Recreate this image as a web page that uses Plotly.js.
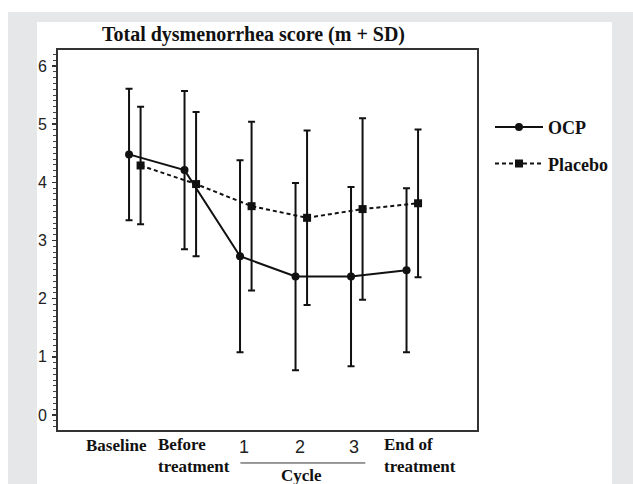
<!DOCTYPE html>
<html>
<head>
<meta charset="utf-8">
<script src="https://cdn.plot.ly/plotly-3.0.1.min.js"></script>
<style>
  html, body { margin: 0; padding: 0; background: #ffffff; }
  #bg { position: absolute; left: 8px; top: 12px; width: 625px; height: 472px; background: #e6e7e8; }
  #panel { position: absolute; left: 37px; top: 22px; width: 575px; height: 462px; background: #ffffff; }
  #chart { position: absolute; left: 0; top: 0; width: 633px; height: 484px; }
</style>
</head>
<body>
<div id="bg"></div>
<div id="panel"></div>
<div id="chart"></div>
<script>
// ---- data ----
const categories = ['Baseline', 'Before treatment', 'Cycle 1', 'Cycle 2', 'Cycle 3', 'End of treatment'];
const xLabels = ['Baseline', 'Before<br>treatment', '1', '2', '3', 'End of<br>treatment'];
const groupLabel = 'Cycle';
const ocpMean = [4.48, 4.21, 2.73, 2.38, 2.38, 2.49];
const ocpSD = [1.13, 1.36, 1.65, 1.61, 1.54, 1.41];
const placeboMean = [4.29, 3.97, 3.59, 3.39, 3.54, 3.64];
const placeboSD = [1.01, 1.24, 1.45, 1.50, 1.56, 1.27];
const seriesNames = ['OCP', 'Placebo'];
const titleText = 'Total dysmenorrhea score (m + SD)';

// ---- layout / style ----
const idx = categories.map((_, i) => i);
const offset = 0.104;
const ink = '#111111';
const serifBold = 'Liberation Serif, Times New Roman, serif';

const traces = [
  {
    x: idx.map(i => i - offset), y: ocpMean, name: seriesNames[0],
    type: 'scatter', mode: 'lines+markers', legendgroup: 'a',
    line: {color: ink, width: 2}, marker: {symbol: 'circle', size: 8, color: ink},
    error_y: {type: 'data', array: ocpSD, visible: true, color: ink, thickness: 2, width: 3.5},
    cliponaxis: false
  },
  {
    x: idx.map(i => i + offset), y: placeboMean, name: seriesNames[1],
    type: 'scatter', mode: 'lines+markers', legendgroup: 'b',
    line: {color: ink, width: 2, dash: '4px,3px'}, marker: {symbol: 'square', size: 8, color: ink},
    error_y: {type: 'data', array: placeboSD, visible: true, color: ink, thickness: 2, width: 3.5},
    cliponaxis: false
  }
];

// label placement (style): anchor and shift from category index
const labelStyle = [
  {dx: 0.256, anchor: 'right', y: -0.0395, font: 'serif'},
  {dx: -0.613, anchor: 'left', y: -0.0684, font: 'serif'},
  {dx: -0.036, anchor: 'center', y: -0.045, font: 'sans'},
  {dx: -0.030, anchor: 'center', y: -0.045, font: 'sans'},
  {dx: -0.047, anchor: 'center', y: -0.045, font: 'sans'},
  {dx: -0.537, anchor: 'left', y: -0.0684, font: 'serif'}
];

const annotations = xLabels.map((t, i) => {
  const s = labelStyle[i];
  return {
    text: s.font === 'serif' ? '<b>' + t + '</b>' : t,
    x: i + s.dx, xref: 'x', xanchor: s.anchor,
    y: s.y, yref: 'paper', yanchor: 'middle',
    showarrow: false, align: 'left',
    font: s.font === 'serif'
      ? {family: serifBold, size: 17, color: ink}
      : {family: 'Liberation Sans, Arial, sans-serif', size: 18, color: '#222'}
  };
});
annotations.push({
  text: '<b>' + groupLabel + '</b>', x: 2.995, xref: 'x', xanchor: 'center',
  y: -0.121, yref: 'paper', yanchor: 'middle', showarrow: false,
  font: {family: serifBold, size: 17, color: ink}
});

const layout = {
  width: 633, height: 484,
  paper_bgcolor: 'rgba(0,0,0,0)', plot_bgcolor: '#ffffff',
  margin: {l: 58, r: 156, t: 50, b: 54, pad: 0},
  title: {
    text: '<b>' + titleText + '</b>',
    x: 0.4666, xref: 'paper', xanchor: 'center',
    y: 0.93, yref: 'container', yanchor: 'middle',
    font: {family: serifBold, size: 20, color: ink}
  },
  xaxis: {
    range: [-1.384, 6.166], showticklabels: false, ticks: '', showgrid: false, zeroline: false,
    showline: true, mirror: true, linecolor: '#333', linewidth: 2
  },
  yaxis: {
    range: [-0.258, 6.275], dtick: 1, tick0: 0, ticks: 'outside', ticklen: 4, tickwidth: 1.5, tickcolor: '#333',
    minor: {dtick: 0.1, ticks: 'outside', ticklen: 3, tickwidth: 1, tickcolor: '#444', showgrid: false},
    showgrid: false, zeroline: false, showline: true, mirror: true, linecolor: '#333', linewidth: 2,
    tickfont: {family: 'Liberation Sans, Arial, sans-serif', size: 16, color: '#222'},
    ticklabelstandoff: 2
  },
  shapes: [{
    type: 'line', xref: 'x', yref: 'paper', x0: 1.903, x1: 4.153, y0: -0.0868, y1: -0.0868,
    line: {color: '#333', width: 1}
  }],
  annotations: annotations,
  showlegend: true,
  legend: {
    x: 1.031, xanchor: 'left', y: 0.845, yanchor: 'top',
    bgcolor: 'rgba(0,0,0,0)', borderwidth: 0,
    font: {family: serifBold, size: 18, color: ink, weight: 'bold'},
    itemwidth: 48,
    traceorder: 'grouped', tracegroupgap: 10
  }
};

Plotly.newPlot('chart', traces, layout, {staticPlot: true, displayModeBar: false});
</script>
</body>
</html>
